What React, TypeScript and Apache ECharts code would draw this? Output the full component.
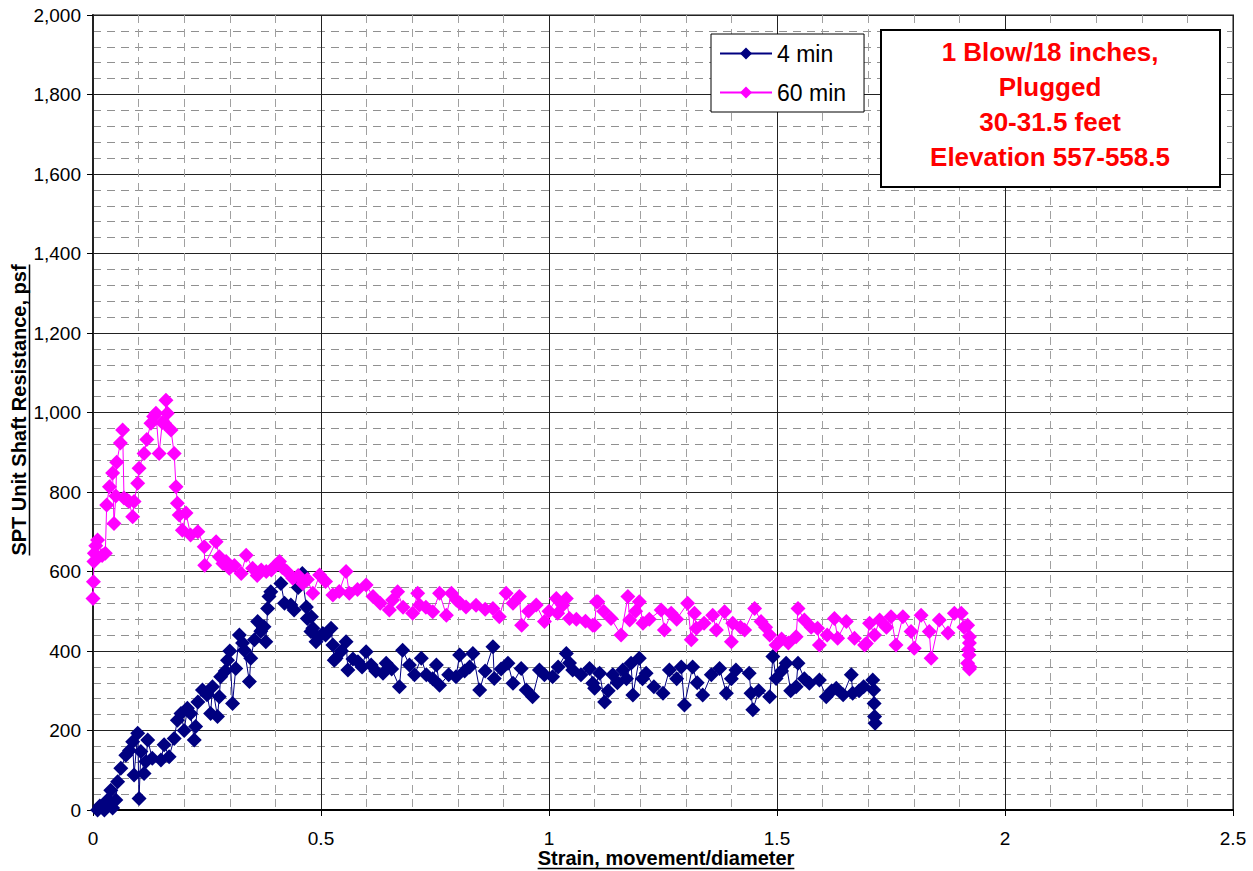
import React, { useEffect, useRef } from "react";
import * as echarts from "echarts";

const FONT = '"Liberation Sans", Arial, sans-serif';

const strain4 = [0.01,0.015,0.021,0.025,0.032,0.039,0.043,0.05,0.054,0.061,0.072,0.08,0.087,0.09,0.098,0.101,0.105,0.112,0.116,0.12,0.13,0.149,0.156,0.167,0.178,0.185,0.193,0.2,0.207,0.214,0.222,0.225,0.23,0.24,0.25,0.258,0.262,0.273,0.277,0.28,0.29,0.295,0.3,0.306,0.313,0.321,0.328,0.332,0.343,0.346,0.354,0.361,0.368,0.375,0.379,0.383,0.386,0.39,0.412,0.42,0.434,0.441,0.45,0.459,0.46,0.468,0.47,0.478,0.479,0.482,0.489,0.492,0.504,0.51,0.522,0.526,0.529,0.533,0.545,0.555,0.559,0.57,0.581,0.59,0.599,0.61,0.62,0.636,0.643,0.655,0.672,0.679,0.694,0.705,0.72,0.731,0.745,0.753,0.76,0.78,0.796,0.804,0.815,0.826,0.833,0.848,0.86,0.877,0.88,0.895,0.91,0.921,0.939,0.95,0.964,0.979,0.99,1.008,1.02,1.038,1.045,1.052,1.07,1.089,1.096,1.1,1.111,1.122,1.13,1.14,1.15,1.162,1.17,1.18,1.184,1.198,1.205,1.213,1.23,1.25,1.264,1.28,1.29,1.297,1.315,1.325,1.337,1.356,1.374,1.389,1.4,1.41,1.439,1.443,1.447,1.46,1.484,1.491,1.498,1.51,1.52,1.53,1.542,1.546,1.56,1.571,1.593,1.608,1.62,1.63,1.645,1.663,1.666,1.68,1.69,1.71,1.712,1.713,1.714,1.715];
const res4 = [0,10,8,0,25,50,5,25,71,105,138,150,172,88,193,29,147,92,122,176,130,126,164,134,180,226,243,200,256,243,176,210,272,302,290,243,310,235,285,335,350,377,400,268,356,440,420,402,323,382,428,474,450,461,423,507,537,549,570,520,516,503,560,595,575,511,482,449,486,457,423,436,444,440,457,415,377,382,400,423,352,380,373,360,398,365,350,344,369,355,310,402,365,340,382,340,330,365,314,340,335,390,350,360,394,302,350,411,331,355,369,319,356,302,285,352,340,335,360,394,370,352,340,356,319,306,344,272,300,340,320,352,330,369,289,382,330,344,310,294,352,330,360,264,360,320,289,340,356,294,330,352,344,294,252,300,285,386,331,350,369,300,310,369,330,319,327,285,300,306,290,340,294,300,310,327,302,268,235,218];

const strain60 = [0,0.001,0.002,0.003,0.006,0.01,0.02,0.027,0.03,0.036,0.043,0.046,0.05,0.052,0.06,0.065,0.068,0.075,0.079,0.087,0.09,0.098,0.101,0.112,0.118,0.127,0.133,0.138,0.145,0.152,0.157,0.16,0.163,0.171,0.178,0.182,0.185,0.189,0.196,0.204,0.214,0.23,0.244,0.245,0.27,0.277,0.285,0.292,0.299,0.31,0.325,0.336,0.35,0.36,0.369,0.38,0.391,0.4,0.409,0.415,0.425,0.438,0.45,0.46,0.47,0.482,0.497,0.51,0.526,0.54,0.555,0.562,0.58,0.599,0.614,0.63,0.65,0.657,0.668,0.68,0.701,0.712,0.716,0.73,0.745,0.76,0.775,0.786,0.797,0.805,0.818,0.84,0.86,0.877,0.891,0.906,0.921,0.935,0.94,0.955,0.972,0.99,1.0,1.016,1.019,1.03,1.038,1.045,1.06,1.08,1.096,1.1,1.104,1.107,1.12,1.136,1.158,1.173,1.177,1.19,1.198,1.206,1.22,1.246,1.253,1.268,1.28,1.304,1.312,1.319,1.323,1.34,1.359,1.367,1.385,1.4,1.403,1.42,1.429,1.451,1.465,1.475,1.484,1.498,1.51,1.525,1.542,1.546,1.56,1.575,1.589,1.593,1.61,1.626,1.633,1.652,1.67,1.692,1.696,1.703,1.714,1.725,1.74,1.75,1.761,1.776,1.794,1.801,1.816,1.834,1.838,1.856,1.875,1.889,1.904,1.91,1.918,1.922,1.922,1.92,1.921,1.918,1.922,1.923];
const res60 = [532,574,625,646,665,679,640,646,767,813,848,721,790,875,923,956,785,780,776,738,776,822,860,897,932,973,990,998,897,975,973,1031,998,956,897,813,772,742,704,747,692,700,662,616,675,637,620,625,608,615,595,641,608,590,604,600,604,615,625,610,600,583,590,570,580,545,591,575,541,550,600,545,555,566,537,520,503,528,549,510,495,545,516,510,499,545,490,545,528,520,511,515,505,507,486,545,520,537,465,500,516,474,500,532,495,515,532,482,480,475,465,465,524,524,500,482,440,537,478,500,524,470,480,503,453,495,480,520,428,495,457,470,490,453,499,423,470,460,453,507,474,460,440,415,430,420,436,507,478,460,457,415,440,482,432,474,432,415,419,470,440,478,460,486,415,486,449,407,490,449,382,478,445,495,495,460,465,436,420,403,390,369,355,360];

const xTicks = [0, 0.5, 1, 1.5, 2, 2.5];
const seriesNames = ["4 min", "60 min"];
const noteLines = ["1 Blow/18 inches,", "Plugged", "30-31.5 feet", "Elevation 557-558.5"];
const xTitle = "Strain, movement/diameter";
const yTitle = "SPT Unit Shaft Resistance, psf";

function measure(text: string, font: string): number {
  const c = document.createElement("canvas").getContext("2d");
  if (!c) return text.length * 9;
  c.font = font;
  return c.measureText(text).width;
}

export default function App() {
  const ref = useRef<HTMLDivElement>(null);
  useEffect(() => {
    document.body.style.margin = "0";
    if (!ref.current) return;
    const chart = echarts.init(ref.current, undefined, { renderer: "svg" });
    const titleFont = `bold 20px ${FONT}`;
    const xw = measure(xTitle, titleFont);
    const yw = measure(yTitle, titleFont);
    const d4 = strain4.map((x, i) => [x, res4[i]]);
    const d60 = strain60.map((x, i) => [x, res60[i]]);
    chart.setOption({
      animation: false,
      backgroundColor: "#fff",
      grid: { left: 93, right: 20, top: 15, bottom: 61, show: true, borderColor: "#8a8a8a", borderWidth: 2, backgroundColor: "transparent" },
      legend: {
        data: seriesNames,
        left: 711, top: 34, orient: "vertical",
        backgroundColor: "#fff", borderColor: "#000", borderWidth: 1, borderRadius: 0,
        padding: [8, 18, 8, 8], itemGap: 16, itemWidth: 52, itemHeight: 15,
        textStyle: { fontSize: 23, fontFamily: FONT, color: "#000" },
      },
      xAxis: {
        type: "value", min: 0, max: 2.5, interval: 0.5,
        axisLine: { show: true, lineStyle: { color: "#000", width: 2 } },
        axisTick: { show: true, length: 6, lineStyle: { color: "#000" } },
        axisLabel: { margin: 19, fontSize: 19, fontFamily: FONT, color: "#000",
          formatter: (v: number) => (xTicks.includes(v) ? String(v) : "") },
        splitLine: { show: true, lineStyle: { color: "#222", width: 1 } },
        minorTick: { show: false, splitNumber: 5 },
        minorSplitLine: { show: true, lineStyle: { color: "#a0a0a0", width: 1, type: [8, 6] } },
      },
      yAxis: {
        type: "value", min: 0, max: 2000, interval: 200,
        axisLine: { show: true, lineStyle: { color: "#222", width: 2 } },
        axisTick: { show: true, length: 6, lineStyle: { color: "#000" } },
        axisLabel: { margin: 12, fontSize: 19, fontFamily: FONT, color: "#000",
          formatter: (v: number) => v.toLocaleString("en-US") },
        splitLine: { show: true, lineStyle: { color: "#222", width: 1 } },
        minorTick: { show: false, splitNumber: 5 },
        minorSplitLine: { show: true, lineStyle: { color: "#909090", width: 1, type: [8, 6] } },
      },
      series: [
        { name: seriesNames[0], type: "line", data: d4, symbol: "diamond", symbolSize: 15, showSymbol: true,
          itemStyle: { color: "#000080" }, lineStyle: { color: "#000080", width: 1 }, z: 3 },
        { name: seriesNames[1], type: "line", data: d60, symbol: "diamond", symbolSize: 15, showSymbol: true,
          itemStyle: { color: "#FF00FF" }, lineStyle: { color: "#FF00FF", width: 1 }, z: 4 },
      ],
      graphic: [
        { type: "rect", z: 100, shape: { x: 881, y: 30, width: 339, height: 157 },
          style: { fill: "#fff", stroke: "#000", lineWidth: 2 } },
        { type: "text", z: 101, x: 1050, y: 104,
          style: { text: noteLines.join("\n"), fill: "#FF0000", font: `bold 26px ${FONT}`,
            align: "center", verticalAlign: "middle", lineHeight: 35 } },
        { type: "text", z: 101, x: 666, y: 858,
          style: { text: xTitle, fill: "#000", font: titleFont, align: "center", verticalAlign: "middle" } },
        { type: "line", z: 101, shape: { x1: 666 - xw / 2, y1: 868.5, x2: 666 + xw / 2, y2: 868.5 },
          style: { stroke: "#000", lineWidth: 1.5 } },
        { type: "group", z: 101, x: 19, y: 410, rotation: Math.PI / 2,
          children: [
            { type: "text", style: { text: yTitle, fill: "#000", font: titleFont, align: "center", verticalAlign: "middle" } },
            { type: "line", shape: { x1: -yw / 2, y1: 10.5, x2: yw / 2, y2: 10.5 }, style: { stroke: "#000", lineWidth: 1.5 } },
          ] },
      ],
    });
    return () => chart.dispose();
  }, []);
  return <div ref={ref} style={{ width: 1253, height: 871 }} />;
}
